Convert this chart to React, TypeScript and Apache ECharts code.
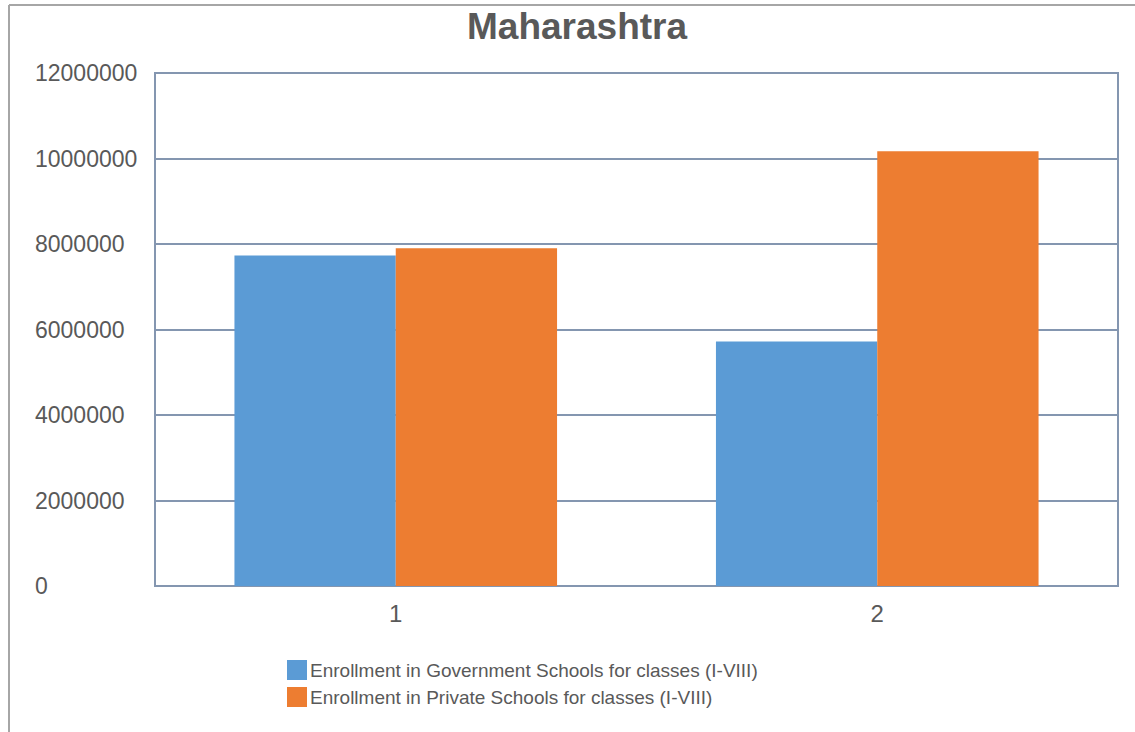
import React, { useEffect, useRef } from "react";
import * as echarts from "echarts";

const titleText = "Maharashtra";
const categories = ["1", "2"];
const govName = "Enrollment in Government Schools for classes (I-VIII)";
const pvtName = "Enrollment in Private Schools for classes (I-VIII)";
const govValues = [7730000, 5720000];
const pvtValues = [7900000, 10170000];
const yMin = 0;
const yMax = 12000000;
const yInterval = 2000000;

export default function App() {
  const ref = useRef<HTMLDivElement>(null);
  useEffect(() => {
    if (!ref.current) return;
    const chart = echarts.init(ref.current, null, { renderer: "svg" });
    const font = "'Liberation Sans', Arial, sans-serif";
    chart.setOption({
      animation: false,
      backgroundColor: "#ffffff",
      title: {
        text: titleText,
        left: 462,
        top: 3,
        textStyle: { fontFamily: font, fontSize: 37, fontWeight: "bold", color: "#595959" },
      },
      graphic: [
        { type: "line", shape: { x1: 9, y1: 5, x2: 1135, y2: 5 }, style: { stroke: "#a6a6a6", lineWidth: 2 } },
        { type: "line", shape: { x1: 9, y1: 5, x2: 9, y2: 732 }, style: { stroke: "#a6a6a6", lineWidth: 2 } },
      ],
      grid: {
        left: 155,
        right: 17,
        top: 73,
        bottom: 146,
        show: true,
        borderColor: "#8496b0",
        borderWidth: 2,
        backgroundColor: "transparent",
      },
      legend: {
        orient: "vertical",
        left: 282,
        top: 655,
        itemWidth: 20,
        itemHeight: 20,
        itemGap: 7,
        icon: "rect",
        textStyle: { fontFamily: font, fontSize: 19, color: "#595959", padding: [0, 0, 0, -2] },
        data: [govName, pvtName],
      },
      xAxis: {
        type: "category",
        data: categories,
        axisLine: { show: true, lineStyle: { color: "#8496b0", width: 2 } },
        axisTick: { show: false },
        axisLabel: { fontFamily: font, fontSize: 24, color: "#595959", margin: 15 },
      },
      yAxis: {
        type: "value",
        min: yMin,
        max: yMax,
        interval: yInterval,
        axisLine: { show: true, lineStyle: { color: "#8496b0", width: 2 } },
        axisTick: { show: false },
        splitLine: { show: true, lineStyle: { color: "#8496b0", width: 2 } },
        axisLabel: {
          fontFamily: font,
          fontSize: 23,
          color: "#595959",
          align: "left",
          margin: 120,
          formatter: (v: number) => String(v),
        },
      },
      series: [
        {
          name: govName,
          type: "bar",
          data: govValues,
          barGap: "0%",
          barCategoryGap: "33%",
          itemStyle: { color: "#5b9bd5" },
        },
        {
          name: pvtName,
          type: "bar",
          data: pvtValues,
          barGap: "0%",
          barCategoryGap: "33%",
          itemStyle: { color: "#ed7d31" },
        },
      ],
    });
    return () => chart.dispose();
  }, []);
  return (
    <div
      ref={ref}
      style={{ position: "fixed", left: 0, top: 0, width: 1135, height: 732 }}
    />
  );
}
